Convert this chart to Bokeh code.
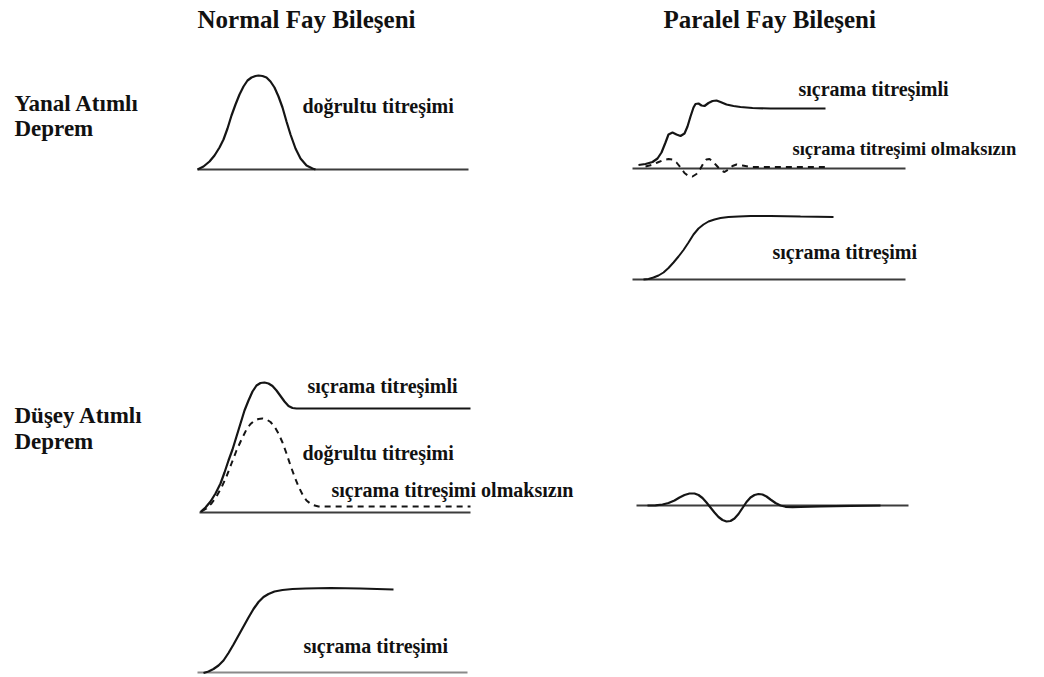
from bokeh.plotting import figure
from bokeh.models import Range1d
from bokeh.core.properties import value
from bokeh.embed import file_html
from bokeh.resources import INLINE

# ---- data (page-pixel coordinates) ----
# column headings
col_titles = ["Normal Fay Bileşeni", "Paralel Fay Bileşeni"]
col_title_x = [197, 663]
col_title_y = [19, 19]

# row headings
row_titles = ["Yanal Atımlı", "Deprem", "Düşey Atımlı", "Deprem"]
row_title_x = [14, 14, 14, 14]
row_title_y = [103, 128, 415, 441]

# curve labels
labels = ["doğrultu titreşimi", "sıçrama titreşimli",
          "sıçrama titreşimi", "sıçrama titreşimli", "doğrultu titreşimi",
          "sıçrama titreşimi olmaksızın", "sıçrama titreşimi"]
label_x = [302, 798, 772, 307, 302, 331, 303]
label_y = [105, 88, 251, 385, 452, 489, 645]

# label near the right edge
edge_labels = ["sıçrama titreşimi olmaksızın"]
edge_label_x = [792]
edge_label_y = [148]

# zero lines of each panel
base_x0 = [197, 632, 632, 199, 636]
base_x1 = [468, 905, 905, 470, 908]
base_y = [169, 168, 279, 512, 505]
base2_x0 = [197]
base2_x1 = [467]
base2_y = [672]

# strike-slip, fault-normal: directivity pulse
yn_x = [197, 203, 209, 214, 219, 223, 227, 231, 235, 239, 243, 247, 251, 255, 258,
        262, 266, 270, 274, 278, 282, 286, 290, 295, 300, 306, 312, 315]
yn_y = [169, 166, 161, 155, 147, 139, 128, 115, 104, 94, 86, 80, 77, 75.5, 75,
        75.5, 77, 81, 87, 96, 107, 121, 134, 148, 158, 165, 168, 169]

# strike-slip, fault-parallel: with fling step
yp1_x = [638, 645, 652, 657, 661, 665, 668, 672, 676, 680, 684, 687, 690, 693, 695,
         698, 701, 704, 708, 712, 716, 720, 726, 733, 740, 752, 770, 825]
yp1_y = [164.5, 163.5, 161.5, 158, 152, 142, 134, 132, 134, 135.5, 133, 126, 116, 107, 103.5,
         103, 105, 105.5, 102.5, 100.5, 100, 101.5, 104, 105.5, 106.5, 107.5, 108, 108]

# strike-slip, fault-parallel: without fling step (dashed)
yp2_x = [645, 651, 657, 663, 668, 672, 676, 680, 684, 688, 692, 696, 700, 703, 706,
         709, 712, 716, 720, 724, 728, 732, 736, 742, 750, 825]
yp2_y = [166, 164.5, 162, 159.5, 158.5, 159, 162, 167, 172.5, 175.5, 176, 173.5, 168, 162.5, 159,
         158.5, 160.5, 165, 169.5, 171.5, 169, 165.5, 164, 165, 166.5, 166.5]

# strike-slip, fault-parallel: fling step alone
ys_x = [643, 648, 653, 658, 663, 668, 673, 678, 683, 688, 693, 698, 703, 708, 714,
        720, 728, 738, 750, 770, 800, 833]
ys_y = [279, 278.5, 277, 275, 272, 267.5, 262, 256, 249.5, 242, 234, 228, 224, 221, 219,
        217.5, 216.5, 216, 215.5, 215.5, 216, 216.5]

# dip-slip, fault-normal: with fling step
dn1_x = [200, 205, 210, 215, 220, 224, 228, 232, 236, 240, 244, 248, 252, 256, 260,
         264, 268, 272, 276, 280, 284, 288, 292, 296, 302, 320, 470]
dn1_y = [511.5, 507, 501, 493, 483, 472, 460, 449, 436, 423, 410, 400, 391, 385, 382.5,
         382, 383, 385.5, 390, 395.5, 401, 405.5, 407.5, 408, 408, 408, 408]

# dip-slip, fault-normal: without fling step (dashed)
dn2_x = [201, 206, 211, 216, 221, 226, 231, 236, 241, 246, 250, 254, 258, 262, 266,
         270, 274, 278, 282, 286, 290, 294, 298, 302, 306, 311, 318, 470]
dn2_y = [511, 508, 503, 496, 487, 476, 463, 450, 439, 429, 423.5, 420, 418.5, 418, 419,
         421.5, 426, 433, 442, 453, 465, 476, 486, 494, 500, 504, 506, 506]

# dip-slip, fault-normal: fling step alone
ds_x = [203, 208, 213, 218, 223, 228, 233, 238, 243, 248, 253, 258, 263, 268, 274,
        282, 292, 305, 330, 360, 393]
ds_y = [672.5, 671, 668.5, 665, 660, 652.5, 644, 635, 626, 617, 608.5, 601.5, 596.5, 593.5, 591,
        589.5, 588.5, 588, 587.5, 588, 589]

# dip-slip, fault-parallel
dp_x = [647, 655, 662, 668, 674, 679, 684, 689, 694, 698, 702, 706, 710, 714, 718,
        722, 726, 730, 734, 738, 742, 746, 750, 754, 758, 762, 766, 770, 775, 780,
        785, 792, 800, 820, 850, 880]
dp_y = [505, 504.8, 504, 502.5, 500, 497, 494.5, 493, 493, 494.5, 497.5, 502, 507, 512, 516.5,
        519.5, 521, 520.5, 518, 513.5, 507.5, 501.5, 497, 494.5, 493.5, 494, 496, 499, 502.5, 505,
        506.3, 506.6, 506.5, 505.8, 505.3, 505]

# ---- figure ----
p = figure(width=1028, height=674, output_backend="svg", toolbar_location=None,
           x_range=Range1d(0, 1028), y_range=Range1d(674, 0),
           min_border=0, outline_line_color=None)
p.xaxis.visible = False
p.yaxis.visible = False
p.grid.visible = False
p.background_fill_color = "white"
p.border_fill_color = "white"

# zero lines
p.segment(x0=base_x0, y0=base_y, x1=base_x1, y1=base_y, line_color="#3c3c3c", line_width=2)
p.segment(x0=base2_x0, y0=base2_y, x1=base2_x1, y1=base2_y, line_color="#8a8a8a", line_width=2)

# curves
curve_col = "#151515"
p.line(yn_x, yn_y, line_color=curve_col, line_width=2.2)
p.line(yp1_x, yp1_y, line_color=curve_col, line_width=2.2)
p.line(yp2_x, yp2_y, line_color=curve_col, line_width=2, line_dash="6 5")
p.line(ys_x, ys_y, line_color=curve_col, line_width=2)
p.line(dn1_x, dn1_y, line_color=curve_col, line_width=2.2)
p.line(dn2_x, dn2_y, line_color=curve_col, line_width=2, line_dash="6 5")
p.line(ds_x, ds_y, line_color=curve_col, line_width=2.2)
p.line(dp_x, dp_y, line_color=curve_col, line_width=2.2)

serif = value("Liberation Serif")
p.text(x=col_title_x, y=col_title_y, text=col_titles, text_font=serif, text_font_style="bold",
       text_font_size="25px", text_color="#111111", text_align="left", text_baseline="middle")
p.text(x=row_title_x, y=row_title_y, text=row_titles, text_font=serif, text_font_style="bold",
       text_font_size="23px", text_color="#111111", text_align="left", text_baseline="middle")
p.text(x=label_x, y=label_y, text=labels, text_font=serif, text_font_style="bold",
       text_font_size="20px", text_color="#111111", text_align="left", text_baseline="middle")
p.text(x=edge_label_x, y=edge_label_y, text=edge_labels, text_font=serif, text_font_style="bold",
       text_font_size="18.5px", text_color="#111111", text_align="left", text_baseline="middle")

open("out.html", "w").write(file_html(p, INLINE))
